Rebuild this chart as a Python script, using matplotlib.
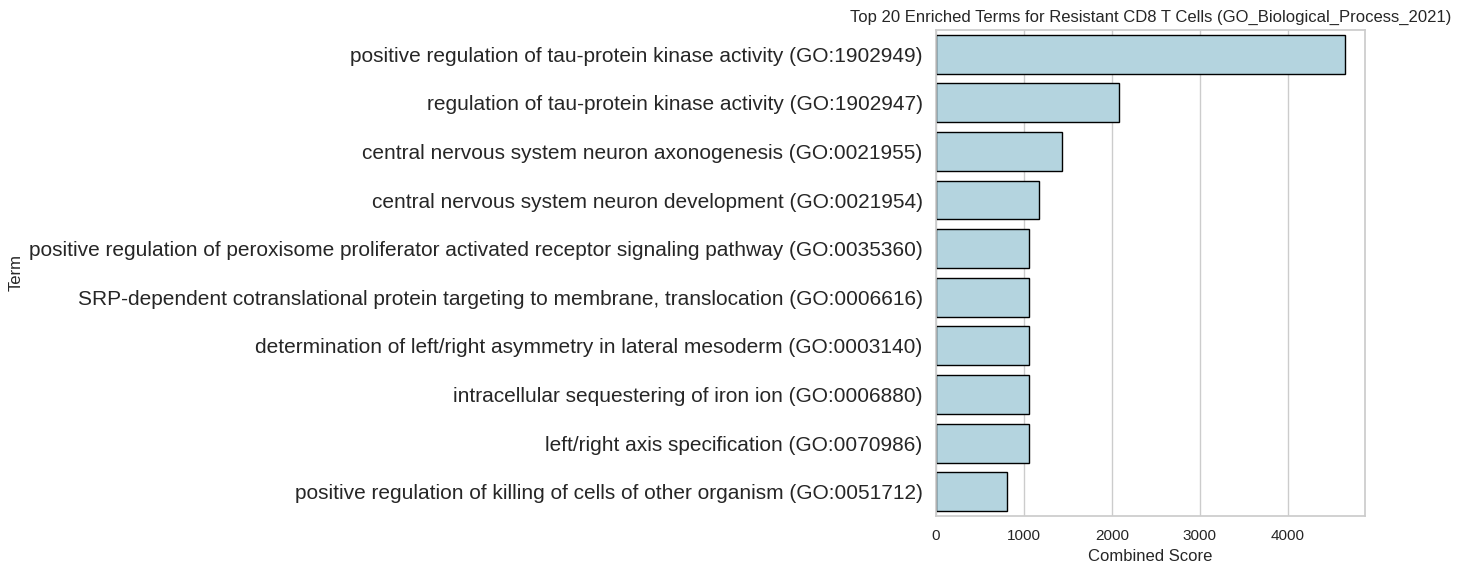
import matplotlib
matplotlib.use("Agg")
import matplotlib.pyplot as plt
import seaborn as sns
import pandas as pd

terms = [
    "positive regulation of tau-protein kinase activity (GO:1902949)",
    "regulation of tau-protein kinase activity (GO:1902947)",
    "central nervous system neuron axonogenesis (GO:0021955)",
    "central nervous system neuron development (GO:0021954)",
    "positive regulation of peroxisome proliferator activated receptor signaling pathway (GO:0035360)",
    "SRP-dependent cotranslational protein targeting to membrane, translocation (GO:0006616)",
    "determination of left/right asymmetry in lateral mesoderm (GO:0003140)",
    "intracellular sequestering of iron ion (GO:0006880)",
    "left/right axis specification (GO:0070986)",
    "positive regulation of killing of cells of other organism (GO:0051712)",
]
scores = [4648, 2080, 1432, 1170, 1057, 1057, 1057, 1057, 1057, 807]

sns.set_theme(style="whitegrid")
plt.rcParams['font.family'] = ['Liberation Sans', 'DejaVu Sans']

df = pd.DataFrame({"Term": terms, "Combined Score": scores})

fig, ax = plt.subplots(figsize=(14.6, 5.75), dpi=100)
fig.subplots_adjust(left=0.641, right=0.935, top=0.948, bottom=0.1026)
sns.barplot(data=df, x="Combined Score", y="Term", color="lightblue",
            edgecolor="black", ax=ax)
ax.set_title("Top 20 Enriched Terms for Resistant CD8 T Cells (GO_Biological_Process_2021)")
ax.tick_params(axis='y', labelsize=15)
fig.savefig("out.png", dpi=100)
